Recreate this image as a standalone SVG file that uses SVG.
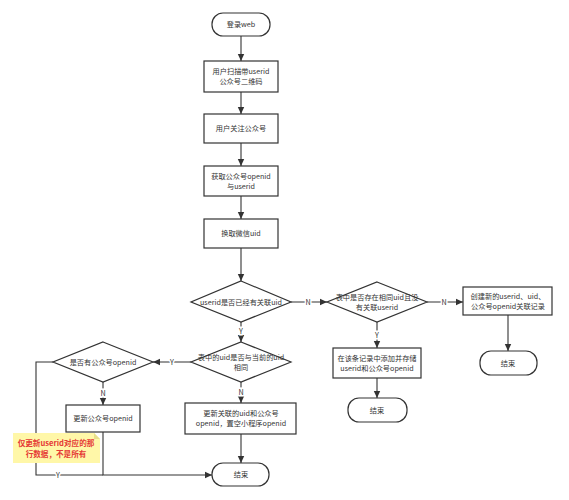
<svg xmlns="http://www.w3.org/2000/svg" width="569" height="500" viewBox="0 0 569 500">
<style>
.s{fill:#fff;stroke:#333;stroke-width:1.2}
.t{font-family:"Noto Sans CJK SC","Microsoft YaHei",sans-serif;font-size:7.2px;fill:#333;text-anchor:middle}
.l{fill:none;stroke:#333;stroke-width:1.1}
.lb{font-family:"Noto Sans CJK SC",sans-serif;font-size:7.2px;fill:#333;text-anchor:middle;stroke:#fff;stroke-width:3;paint-order:stroke}
.n{font-family:"Noto Sans CJK SC",sans-serif;font-size:7.6px;font-weight:bold;fill:#e53935;text-anchor:middle}
</style>
<defs>
<marker id="a" markerWidth="8" markerHeight="8" refX="7" refY="4" orient="auto" markerUnits="userSpaceOnUse">
<path d="M0,0.8 L7,4 L0,7.2 Z" fill="#333"/>
</marker>
</defs>
<rect width="569" height="500" fill="#fff"/>
<g id="connectors">
<path class="l" d="M241,36 V61" marker-end="url(#a)"/>
<path class="l" d="M241,92 V114" marker-end="url(#a)"/>
<path class="l" d="M241,143 V166" marker-end="url(#a)"/>
<path class="l" d="M241,196 V219" marker-end="url(#a)"/>
<path class="l" d="M241,248 V281" marker-end="url(#a)"/>
<path class="l" d="M241,322 V342" marker-end="url(#a)"/>
<path class="l" d="M241,382 V403" marker-end="url(#a)"/>
<path class="l" d="M241,434 V463" marker-end="url(#a)"/>
<path class="l" d="M291,302 H327" marker-end="url(#a)"/>
<path class="l" d="M427,302 H463" marker-end="url(#a)"/>
<path class="l" d="M508,315 V351" marker-end="url(#a)"/>
<path class="l" d="M377,322 V348" marker-end="url(#a)"/>
<path class="l" d="M377,378 V398" marker-end="url(#a)"/>
<path class="l" d="M191,362 H153" marker-end="url(#a)"/>
<path class="l" d="M103,382 V405" marker-end="url(#a)"/>
<path class="l" d="M103,432 V475 H212" marker-end="url(#a)"/>
<path class="l" d="M53,362 H36 V475 H103"/>
<text class="lb" x="241" y="334">Y</text>
<text class="lb" x="241" y="395">N</text>
<text class="lb" x="308" y="305">N</text>
<text class="lb" x="444" y="305">N</text>
<text class="lb" x="377" y="338">Y</text>
<text class="lb" x="172" y="365">Y</text>
<text class="lb" x="103" y="396">N</text>
<text class="lb" x="58" y="478">Y</text>
</g>
<g id="start"><rect class="s" x="212" y="13" width="58" height="23" rx="11"/><text class="t" x="241" y="27">登录web</text></g>
<g id="scan"><rect class="s" x="204" y="61" width="74" height="31"/><text class="t" x="241" y="74">用户扫描带userid</text><text class="t" x="241" y="84">公众号二维码</text></g>
<g id="follow"><rect class="s" x="204" y="114" width="74" height="29"/><text class="t" x="241" y="131">用户关注公众号</text></g>
<g id="get"><rect class="s" x="204" y="166" width="74" height="30"/><text class="t" x="241" y="179">获取公众号openid</text><text class="t" x="241" y="189">与userid</text></g>
<g id="uid"><rect class="s" x="204" y="219" width="74" height="29"/><text class="t" x="241" y="236">换取微信uid</text></g>
<g id="d1"><polygon class="s" points="241,281 291,302 241,322 191,302"/><text class="t" x="241" y="305">userid是否已经有关联uid</text></g>
<g id="d2"><polygon class="s" points="241,342 291,362 241,382 191,362"/><text class="t" x="241" y="360">表中的uid是否与当前的uid</text><text class="t" x="241" y="370">相同</text></g>
<g id="update"><rect class="s" x="185" y="403" width="111" height="31"/><text class="t" x="241" y="416">更新关联的uid和公众号</text><text class="t" x="241" y="426">openid，置空小程序openid</text></g>
<g id="end1"><rect class="s" x="212" y="463" width="57" height="23" rx="11"/><text class="t" x="241" y="477">结束</text></g>
<g id="d3"><polygon class="s" points="377,282 427,302 377,322 327,302"/><text class="t" x="377" y="300">表中是否存在相同uid且没</text><text class="t" x="377" y="310">有关联userid</text></g>
<g id="create"><rect class="s" x="463" y="287" width="89" height="28"/><text class="t" x="508" y="299">创建新的userid、uid、</text><text class="t" x="508" y="309">公众号openid关联记录</text></g>
<g id="end2"><rect class="s" x="480" y="351" width="57" height="24" rx="11"/><text class="t" x="508" y="366">结束</text></g>
<g id="add"><rect class="s" x="333" y="348" width="88" height="30"/><text class="t" x="377" y="361">在该条记录中添加并存储</text><text class="t" x="377" y="371">userid和公众号openid</text></g>
<g id="end3"><rect class="s" x="348" y="398" width="59" height="24" rx="11"/><text class="t" x="377" y="413">结束</text></g>
<g id="d4"><polygon class="s" points="103,342 153,362 103,382 53,362"/><text class="t" x="103" y="365">是否有公众号openid</text></g>
<g id="upd2"><rect class="s" x="66" y="405" width="74" height="27"/><text class="t" x="103" y="421">更新公众号openid</text></g>
<g id="note"><path d="M13,433 H94 L100,439 V463 H13 Z" fill="#fff7a8" stroke="none"/><path d="M94,433 V439 H100 Z" fill="#e8df8a"/><text class="n" x="56" y="446">仅更新userid对应的那</text><text class="n" x="56" y="457">行数据，不是所有</text></g>
</svg>
